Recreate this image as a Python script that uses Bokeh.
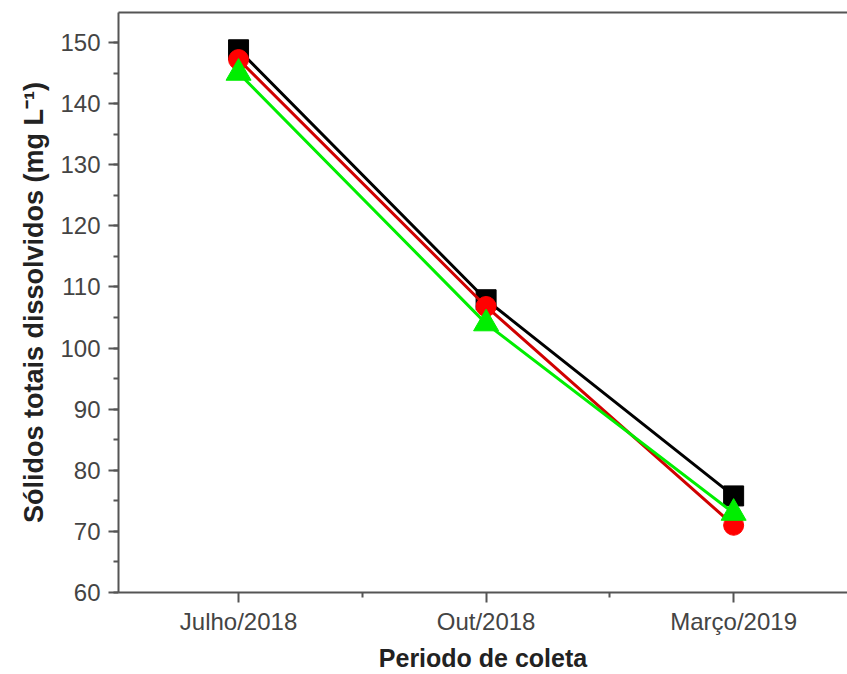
from bokeh.plotting import figure
from bokeh.models import LinearAxis, FixedTicker, SingleIntervalTicker, Range1d
from bokeh.embed import file_html
from bokeh.resources import INLINE

# Data
periods = ["Julho/2018", "Out/2018", "Março/2019"]
x_pos = [1, 2, 3]
serie_1 = [148.8, 107.9, 75.8]   # black squares
serie_2 = [147.2, 106.8, 71.0]   # red circles
serie_3 = [145.0, 104.0, 73.0]   # green triangles
y_ticks_interval = 10

FONT = "Liberation Sans"

p = figure(width=847, height=674, output_backend="svg", toolbar_location=None,
           x_range=Range1d(0.515, 3.46), y_range=Range1d(60, 154.9),
           min_border_left=118, min_border_right=0, min_border_top=12,
           min_border_bottom=80)
p.outline_line_color = None
p.outline_line_alpha = 0
p.grid.visible = False
p.background_fill_color = "white"
p.border_fill_color = "white"

p.line(x_pos, serie_1, line_color="black", line_width=3)
p.scatter(x_pos, serie_1, marker="square", size=20, fill_color="black", line_color="black")
p.line(x_pos, serie_2, line_color="#d00000", line_width=3)
p.scatter(x_pos, serie_2, marker="circle", size=20, fill_color="#ff0000", line_color="#ff0000")
p.line(x_pos, serie_3, line_color="#00ee00", line_width=3)
p.scatter(x_pos, serie_3, marker="triangle", size=25, fill_color="#00ee00", line_color="#00ee00")

xa = p.xaxis[0]
xa.ticker = FixedTicker(ticks=x_pos, minor_ticks=[1.5, 2.5])
xa.major_label_overrides = {x: lab for x, lab in zip(x_pos, periods)}
xa.axis_label = "Periodo de coleta"

ya = p.yaxis[0]
ya.ticker = SingleIntervalTicker(interval=y_ticks_interval, num_minor_ticks=2)
ya.axis_label = "Sólidos totais dissolvidos (mg L\u207b\u00b9)"

for ax in (xa, ya):
    ax.axis_line_color = "#555555"
    ax.axis_line_width = 2
    ax.major_tick_line_color = "#555555"
    ax.minor_tick_line_color = "#555555"
    ax.major_tick_line_width = 2
    ax.minor_tick_line_width = 2
    ax.major_tick_out = 10
    ax.major_tick_in = 0
    ax.minor_tick_out = 5
    ax.minor_tick_in = 0
    ax.major_label_text_font = FONT
    ax.major_label_text_font_size = "24px"
    ax.major_label_text_color = "#444444"
    ax.axis_label_text_font = FONT
    ax.axis_label_text_font_style = "bold"
    ax.axis_label_text_color = "#222222"

xa.axis_label_text_font_size = "25px"
ya.axis_label_text_font_size = "27px"
xa.major_label_standoff = 5
xa.axis_label_standoff = 6
ya.major_label_standoff = 8
ya.axis_label_standoff = 8

top = LinearAxis(ticker=FixedTicker(ticks=[]), major_label_text_font_size="0px",
                 axis_line_color="#555555", axis_line_width=2,
                 major_tick_line_color=None, minor_tick_line_color=None)
p.add_layout(top, "above")

open("out.html", "w").write(file_html(p, INLINE))
